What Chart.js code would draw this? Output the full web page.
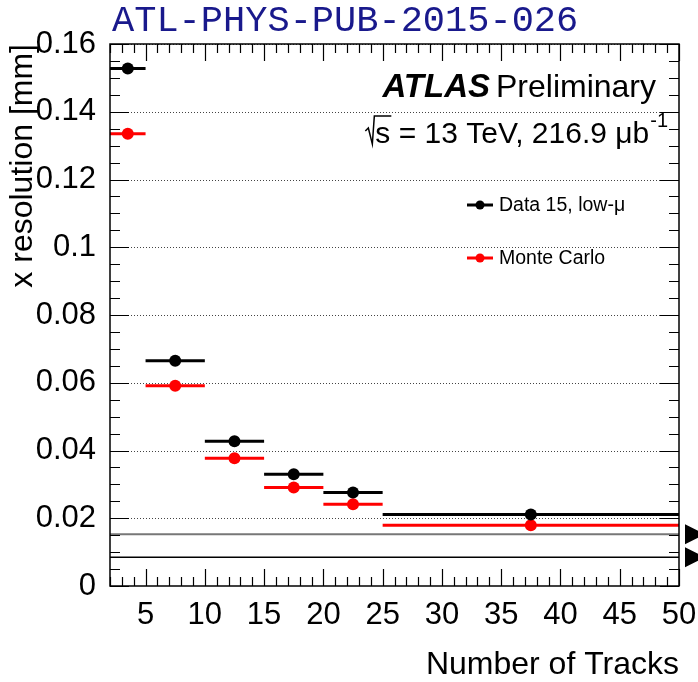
<!DOCTYPE html>
<html>
<head>
<meta charset="utf-8">
<script src="https://cdn.jsdelivr.net/npm/chart.js@4/dist/chart.umd.min.js"></script>
<style>
  html, body { margin: 0; padding: 0; background: #fff; }
  #wrap { width: 698px; height: 682px; position: relative; }
</style>
</head>
<body>
<div id="wrap"><canvas id="c" width="698" height="682"></canvas></div>
<script>
// Track-multiplicity bins
const binLow    = [2, 5, 10, 15, 20, 25];
const binHigh   = [5, 10, 15, 20, 25, 50];
const binCenter = [3.5, 7.5, 12.5, 17.5, 22.5, 37.5];

// x resolution per bin [mm]
const dataRes = [0.1528, 0.0665, 0.0427, 0.0330, 0.0276, 0.0211];
const mcRes   = [0.1335, 0.0591, 0.0377, 0.0291, 0.0241, 0.0179];

// Horizontal reference levels [mm]
const refLevels = [0.0153, 0.0085];

// Axis ticks
const xTickValues = [5, 10, 15, 20, 25, 30, 35, 40, 45, 50];
const yTickValues = [0, 0.02, 0.04, 0.06, 0.08, 0.1, 0.12, 0.14, 0.16];
const yTickLabels = ['0', '0.02', '0.04', '0.06', '0.08', '0.1', '0.12', '0.14', '0.16'];

const SANS = '"Liberation Sans", Arial, sans-serif';

const toPoints = vals => binCenter.map((x, i) => ({ x: x, y: vals[i] }));

// ROOT-style frame, inward ticks, dotted grid, bin-width bars, reference lines, labels
const rootStyle = {
  id: 'rootStyle',
  beforeDatasetsDraw(chart) {
    const { ctx, chartArea: a, scales: { x, y } } = chart;
    ctx.save();
    // dotted horizontal grid at major y ticks
    ctx.strokeStyle = '#444';
    ctx.lineWidth = 1;
    ctx.setLineDash([1, 2]);
    yTickValues.forEach(v => {
      if (v === 0) return;
      const py = Math.round(y.getPixelForValue(v)) + 0.5;
      ctx.beginPath(); ctx.moveTo(a.left, py); ctx.lineTo(a.right, py); ctx.stroke();
    });
    ctx.setLineDash([]);
    // reference levels
    const refStyles = [{ c: '#777', w: 2 }, { c: '#000', w: 1.5 }];
    refLevels.forEach((v, i) => {
      const py = y.getPixelForValue(v);
      ctx.strokeStyle = refStyles[i].c; ctx.lineWidth = refStyles[i].w;
      ctx.beginPath(); ctx.moveTo(a.left, py); ctx.lineTo(a.right, py); ctx.stroke();
      ctx.fillStyle = '#000';
      ctx.beginPath();
      ctx.moveTo(a.right + 6, py - 10);
      ctx.lineTo(a.right + 26, py);
      ctx.lineTo(a.right + 6, py + 10);
      ctx.closePath(); ctx.fill();
    });
    // bin-width bars for each series
    chart.data.datasets.forEach(ds => {
      ctx.strokeStyle = ds.borderColor; ctx.lineWidth = 3;
      ds.data.forEach((p, i) => {
        const py = y.getPixelForValue(p.y);
        ctx.beginPath();
        ctx.moveTo(x.getPixelForValue(binLow[i]), py);
        ctx.lineTo(x.getPixelForValue(binHigh[i]), py);
        ctx.stroke();
      });
    });
    ctx.restore();
  },
  afterDraw(chart) {
    const { ctx, chartArea: a, scales: { x, y } } = chart;
    ctx.save();
    // frame
    ctx.strokeStyle = '#000'; ctx.lineWidth = 1.5;
    ctx.strokeRect(a.left, a.top, a.right - a.left, a.bottom - a.top);
    // x ticks (bottom and top), major every 5, minor every 1
    ctx.lineWidth = 1.2;
    for (let v = 2; v <= 50; v++) {
      const px = Math.round(x.getPixelForValue(v)) + 0.5;
      const len = (v % 5 === 0) ? 17 : 9;
      ctx.beginPath();
      ctx.moveTo(px, a.bottom); ctx.lineTo(px, a.bottom - len);
      ctx.moveTo(px, a.top); ctx.lineTo(px, a.top + len);
      ctx.stroke();
    }
    // y ticks (left and right), major every 0.02, minor every 0.005
    for (let k = 0; k <= 32; k++) {
      const v = k * 0.005;
      const py = Math.round(y.getPixelForValue(v)) + 0.5;
      const len = (k % 4 === 0) ? 19 : 10;
      ctx.beginPath();
      ctx.moveTo(a.left, py); ctx.lineTo(a.left + len, py);
      ctx.moveTo(a.right, py); ctx.lineTo(a.right - len, py);
      ctx.stroke();
    }
    // document reference at the top
    ctx.fillStyle = 'rgb(25,25,140)';
    ctx.font = '37px "Liberation Mono", "Courier New", monospace';
    ctx.textAlign = 'left'; ctx.textBaseline = 'alphabetic';
    ctx.fillText('ATL-PHYS-PUB-2015-026', 112, 31);
    // experiment label
    ctx.fillStyle = '#000';
    ctx.textAlign = 'right';
    ctx.font = '32px ' + SANS;
    ctx.fillText('Preliminary', 656, 97);
    const wPre = ctx.measureText('Preliminary').width;
    ctx.font = 'italic bold 33px ' + SANS;
    ctx.fillText('ATLAS', 656 - wPre - 6, 97);
    // energy and luminosity
    ctx.font = '20px ' + SANS;
    const sup = '-1';
    const wSup = ctx.measureText(sup).width;
    const supX = 668 - wSup;
    ctx.textAlign = 'left';
    ctx.fillText(sup, supX, 127);
    ctx.font = '30px ' + SANS;
    ctx.textAlign = 'right';
    const main = 's = 13 TeV, 216.9 \u03BCb';
    ctx.fillText(main, supX - 1, 143);
    const wMain = ctx.measureText(main).width;
    const sX = supX - 1 - wMain;
    const wS = ctx.measureText('s').width;
    // radical sign over "s"
    ctx.lineWidth = 1.5;
    ctx.beginPath();
    ctx.moveTo(sX - 10, 131);
    ctx.lineTo(sX - 7, 128);
    ctx.lineTo(sX - 3, 144);
    ctx.lineTo(sX - 1, 116);
    ctx.lineTo(sX + wS + 1, 116);
    ctx.stroke();
    // legend
    ctx.textAlign = 'left'; ctx.textBaseline = 'middle';
    ctx.font = '19.5px ' + SANS;
    const legY = [205, 258];
    chart.data.datasets.forEach((ds, i) => {
      const ly = legY[i];
      ctx.strokeStyle = ds.borderColor; ctx.fillStyle = ds.backgroundColor;
      ctx.lineWidth = 3;
      ctx.beginPath(); ctx.moveTo(467, ly); ctx.lineTo(493, ly); ctx.stroke();
      ctx.beginPath(); ctx.arc(480, ly, 4.5, 0, Math.PI * 2); ctx.fill();
      ctx.fillStyle = '#000';
      ctx.fillText(ds.label, 499, ly + 1);
    });
    ctx.restore();
  }
};

new Chart(document.getElementById('c'), {
  type: 'scatter',
  data: {
    datasets: [
      { label: 'Data 15, low-\u03BC', data: toPoints(dataRes),
        borderColor: '#000', backgroundColor: '#000', pointRadius: 6, pointBorderWidth: 0 },
      { label: 'Monte Carlo', data: toPoints(mcRes),
        borderColor: '#ff0000', backgroundColor: '#ff0000', pointRadius: 6, pointBorderWidth: 0 }
    ]
  },
  options: {
    responsive: false,
    animation: false,
    devicePixelRatio: 1,
    layout: { padding: { top: 44, right: 19, left: 0, bottom: 0 } },
    plugins: { legend: { display: false }, tooltip: { enabled: false } },
    scales: {
      x: {
        type: 'linear', min: 2, max: 50,
        afterBuildTicks: s => { s.ticks = xTickValues.map(v => ({ value: v })); },
        afterFit: s => { s.height = 96; s.paddingLeft = 0; s.paddingRight = 0; },
        grid: { display: false },
        border: { display: false },
        ticks: { color: '#000', font: { family: SANS, size: 31 }, padding: 3, maxRotation: 0, autoSkip: false },
        title: { display: true, text: 'Number of Tracks', align: 'end', color: '#000',
                 font: { family: SANS, size: 32, lineHeight: 1.0 }, padding: { top: 0, bottom: 1 } }
      },
      y: {
        min: 0, max: 0.16,
        afterBuildTicks: s => { s.ticks = yTickValues.map(v => ({ value: v })); },
        afterFit: s => { s.width = 110; s.paddingTop = 0; s.paddingBottom = 0; },
        grid: { display: false },
        border: { display: false },
        ticks: { color: '#000', font: { family: SANS, size: 31 }, padding: 6,
                 callback: (v, i) => yTickLabels[i] },
        title: { display: true, text: 'x resolution [mm]', align: 'end', color: '#000',
                 font: { family: SANS, size: 32 }, padding: { top: 4, bottom: 0 } }
      }
    }
  },
  plugins: [rootStyle]
});
</script>
</body>
</html>
